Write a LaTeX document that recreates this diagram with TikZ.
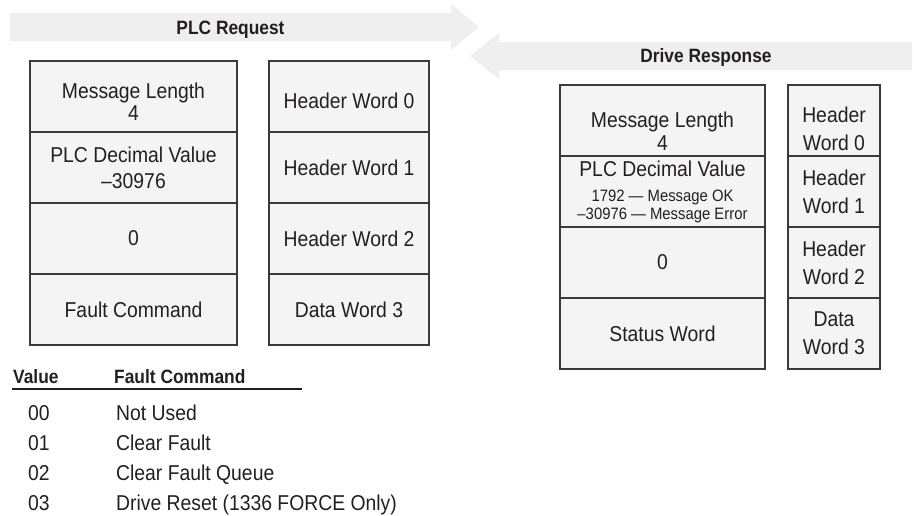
\documentclass[tikz,border=0pt]{standalone}
\usepackage{fontspec}
\setmainfont{Liberation Sans}[FakeStretch=0.9]
\usetikzlibrary{positioning}
\definecolor{cellgray}{HTML}{F4F4F4}
\definecolor{arrowgray}{HTML}{EFEFEF}
\definecolor{linegray}{HTML}{3A3A3A}
\definecolor{inkgray}{HTML}{231F20}

\begin{document}
\begin{tikzpicture}[x=1pt,y=-1pt,
        cell/.style={draw=linegray,line width=1.3pt,fill=cellgray,minimum height=71pt,inner sep=0pt,outer sep=0pt,align=center,text=inkgray,font=\fontsize{21.5}{22}\selectfont},
        widecell/.style={cell,minimum width=207pt},
        wordcell/.style={cell,minimum width=160pt},
        respcell/.style={cell,minimum width=205pt},
        narrowcell/.style={cell,minimum width=92pt,font=\fontsize{21.5}{28}\selectfont},
        title/.style={anchor=base,text=inkgray,font=\fontsize{19.3}{20}\selectfont\bfseries},
        tabhead/.style={anchor=base west,inner sep=0pt,text=inkgray,font=\fontsize{19.3}{20}\selectfont\bfseries},
        tabentry/.style={anchor=base west,inner sep=0pt,text=inkgray,font=\fontsize{21.5}{22}\selectfont}]
        \useasboundingbox (0,0) rectangle (914,515);

        \fill[arrowgray] (10,13) -- (451,13) -- (451,4) -- (479,27) -- (451,50) -- (451,41) -- (10,41) -- cycle;
        \fill[arrowgray] (912,42) -- (499,42) -- (499,33) -- (470,56) -- (499,79) -- (499,70) -- (912,70) -- cycle;
        \node[title] (request) at (230.5,34) {PLC Request};
        \node[title] (response) at (706,62) {Drive Response};

        \node[widecell] (reqlen) at (133.5,96.5) {\rule{0pt}{26pt}Message Length\\[0pt]4};
        \node[widecell] (reqdec) [below=0pt of reqlen] {PLC Decimal Value\\[4pt]–30976};
        \node[widecell] (reqzero) [below=0pt of reqdec] {0};
        \node[widecell] (reqcmd) [below=0pt of reqzero] {Fault Command};

        \node[wordcell] (reqhw0) at (349,96.5) {\rule{0pt}{24pt}Header Word 0};
        \node[wordcell] (reqhw1) [below=0pt of reqhw0] {Header Word 1};
        \node[wordcell] (reqhw2) [below=0pt of reqhw1] {Header Word 2};
        \node[wordcell] (reqdw3) [below=0pt of reqhw2] {Data Word 3};

        \node[respcell] (resplen) at (662.5,120.5) {\rule{0pt}{36pt}Message Length\\[1pt]4};
        \node[respcell] (respdec) [below=0pt of resplen] {PLC Decimal Value\\[3pt]{\fontsize{16.5}{17}\selectfont 1792 — Message OK}\\[-4pt]{\fontsize{16.5}{17}\selectfont –30976 — Message Error}};
        \node[respcell] (respzero) [below=0pt of respdec] {0};
        \node[respcell] (respstat) [below=0pt of respzero] {Status Word};

        \node[narrowcell] (resphw0) at (834,120.5) {\rule{0pt}{32pt}Header\\Word 0};
        \node[narrowcell] (resphw1) [below=0pt of resphw0] {Header\\Word 1};
        \node[narrowcell] (resphw2) [below=0pt of resphw1] {Header\\Word 2};
        \node[narrowcell] (respdw3) [below=0pt of resphw2] {Data\\Word 3};

        \node[tabhead] (valhead) at (13,383) {Value};
        \node[tabhead] (cmdhead) at (114,383) {Fault Command};
        \draw[inkgray, line width=1.6pt] (12,389) -- (302,389);

        \node[tabentry] (val0) at (28,420) {00};
        \node[tabentry] (cmd0) at (116,420) {Not Used};
        \node[tabentry] (val1) at (28,450) {01};
        \node[tabentry] (cmd1) at (116,450) {Clear Fault};
        \node[tabentry] (val2) at (28,480) {02};
        \node[tabentry] (cmd2) at (116,480) {Clear Fault Queue};
        \node[tabentry] (val3) at (28,510) {03};
        \node[tabentry] (cmd3) at (116,510) {Drive Reset (1336 FORCE Only)};
    \end{tikzpicture}
\end{document}
